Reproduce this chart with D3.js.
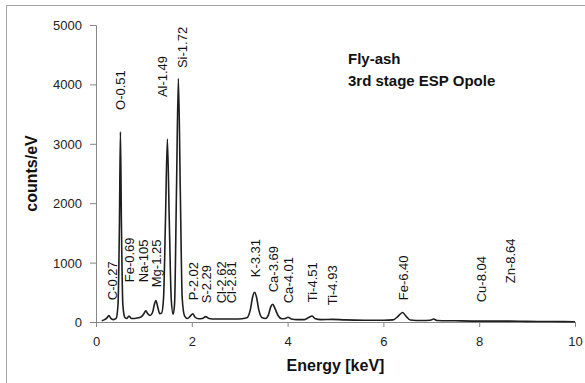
<!DOCTYPE html>
<html>
<head>
<meta charset="utf-8">
<script src="https://cdn.jsdelivr.net/npm/d3@7"></script>
<style>
  body { margin: 0; background: #fff; }
  svg { display: block; font-family: "Liberation Sans", Arial, sans-serif; }
</style>
</head>
<body>
<div id="chart"></div>
<script>
// spectrum (keV, counts/eV)
const energy = [0.12, 0.18, 0.23, 0.27, 0.31, 0.36, 0.42, 0.46, 0.49, 0.51, 0.53, 0.56, 0.60, 0.64, 0.69,
    0.74, 0.80, 0.88, 0.95, 1.00, 1.04, 1.08, 1.13, 1.18, 1.22, 1.25, 1.29, 1.33, 1.37, 1.41, 1.45, 1.49,
    1.53, 1.57, 1.61, 1.64, 1.68, 1.72, 1.76, 1.80, 1.85, 1.91, 1.97, 2.02, 2.07, 2.14, 2.22, 2.29, 2.36,
    2.50, 2.70, 2.90, 3.05, 3.15, 3.22, 3.27, 3.31, 3.35, 3.40, 3.47, 3.54, 3.60, 3.65, 3.69, 3.74, 3.80,
    3.88, 3.95, 4.01, 4.08, 4.20, 4.35, 4.45, 4.51, 4.57, 4.70, 4.93, 5.20, 5.60, 6.00, 6.20, 6.30, 6.40,
    6.48, 6.56, 6.80, 6.98, 7.05, 7.12, 7.50, 8.00, 8.64, 9.00, 9.50, 10.0];
const counts = [20, 40, 70, 110, 60, 40, 60, 300, 1700, 3200, 1700, 300, 80, 60, 100,
    60, 60, 70, 90, 140, 190, 140, 110, 160, 300, 360, 250, 140, 150, 400, 1700, 3080,
    1700, 400, 130, 300, 2200, 4100, 2200, 400, 100, 60, 100, 140, 80, 55, 60, 90, 60,
    50, 50, 50, 55, 70, 200, 420, 500, 420, 200, 70, 60, 120, 260, 300, 220, 110,
    55, 60, 80, 50, 40, 40, 80, 100, 60, 40, 45, 35, 30, 30, 35, 90, 160,
    90, 35, 25, 30, 50, 25, 20, 15, 15, 10, 8, 5];

// peak annotations: text, energy, level (counts) where the label starts
const peakNames = ['C-0.27', 'O-0.51', 'Fe-0.69', 'Na-105', 'Mg-1.25', 'Al-1.49', 'Si-1.72', 'P-2.02', 'S-2.29',
    'Cl-2.62', 'Cl-2.81', 'K-3.31', 'Ca-3.69', 'Ca-4.01', 'Ti-4.51', 'Ti-4.93', 'Fe-6.40', 'Cu-8.04', 'Zn-8.64'];
const peakEnergy = [0.27, 0.51, 0.69, 1.05, 1.25, 1.49, 1.72, 2.02, 2.29, 2.62, 2.81, 3.31, 3.69, 4.01, 4.51, 4.93, 6.40, 8.04, 8.64];
const peakLevel = [366, 3570, 669, 669, 585, 3786, 4275, 366, 315, 315, 315, 753, 500, 315, 332, 281, 366, 332, 652];

const xTicks = [0, 2, 4, 6, 8, 10];
const yTicks = [0, 1000, 2000, 3000, 4000, 5000];
const titleLines = ['Fly-ash', '3rd stage ESP Opole'];

const width = 585, height = 383;
const plot = { left: 96, right: 575, top: 25, bottom: 322 };

const svg = d3.select('#chart').append('svg')
    .attr('width', width)
    .attr('height', height);

// chart area frame (runs off the bottom/right of the picture)
svg.append('rect')
    .attr('x', 6.5).attr('y', 5.5)
    .attr('width', 640).attr('height', 420)
    .style('fill', 'none')
    .style('stroke', '#a6a6a6');

const x = d3.scaleLinear().domain([0, 10]).range([plot.left, plot.right]);
const y = d3.scaleLinear().domain([0, 5000]).range([plot.bottom, plot.top]);

const yAxis = svg.append('g')
    .attr('transform', `translate(${plot.left},0)`)
    .call(d3.axisLeft(y).tickValues(yTicks).tickSize(6).tickPadding(8).tickFormat(d3.format('d')));
const xAxis = svg.append('g')
    .attr('transform', `translate(0,${plot.bottom})`)
    .call(d3.axisBottom(x).tickValues(xTicks).tickSize(5).tickPadding(10).tickFormat(d3.format('d')));

[xAxis, yAxis].forEach(g => {
    g.select('.domain').attr('stroke', '#868686');
    g.selectAll('.tick line').attr('stroke', '#868686');
    g.selectAll('.tick text')
        .attr('fill', '#222')
        .style('font-size', '13px')
        .style('font-family', '"Liberation Sans", Arial, sans-serif');
});
yAxis.selectAll('.tick text').attr('dy', '0.35em');

// spectrum
const pts = energy.map((e, i) => [e, counts[i]]);
const line = d3.line()
    .curve(d3.curveMonotoneX)
    .x(d => x(d[0]))
    .y(d => y(d[1]));
svg.append('path')
    .datum(pts)
    .attr('d', line)
    .style('fill', 'none')
    .style('stroke', '#1e1e1e')
    .style('stroke-width', 1.6)
    .style('stroke-linejoin', 'round');

// hand-placed nudges of a few labels (px)
const nudge = { 'Na-105': -3, 'Al-1.49': -5, 'Si-1.72': 4, 'C-0.27': 3 };

svg.append('g').classed('peaks', true)
    .selectAll('text')
    .data(peakNames)
    .enter().append('text')
    .attr('transform', (d, i) => `translate(${x(peakEnergy[i]) + 5 + (nudge[d] || 0)},${y(peakLevel[i])}) rotate(-90)`)
    .style('font-size', '13px')
    .style('fill', '#111')
    .text(d => d);

// axis titles
svg.append('text')
    .attr('x', x(5)).attr('y', 371)
    .attr('text-anchor', 'middle')
    .style('font-size', '16px')
    .style('font-weight', 'bold')
    .style('fill', '#111')
    .text('Energy [keV]');
svg.append('text')
    .attr('transform', `translate(37,${(plot.top + plot.bottom) / 2}) rotate(-90)`)
    .attr('text-anchor', 'middle')
    .style('font-size', '16px')
    .style('font-weight', 'bold')
    .style('fill', '#111')
    .text('counts/eV');

svg.append('g').classed('title', true)
    .selectAll('text')
    .data(titleLines)
    .enter().append('text')
    .attr('x', 348)
    .attr('y', (d, i) => 64 + i * 22)
    .style('font-size', '15px')
    .style('font-weight', 'bold')
    .style('fill', '#111')
    .text(d => d);
</script>
</body>
</html>
